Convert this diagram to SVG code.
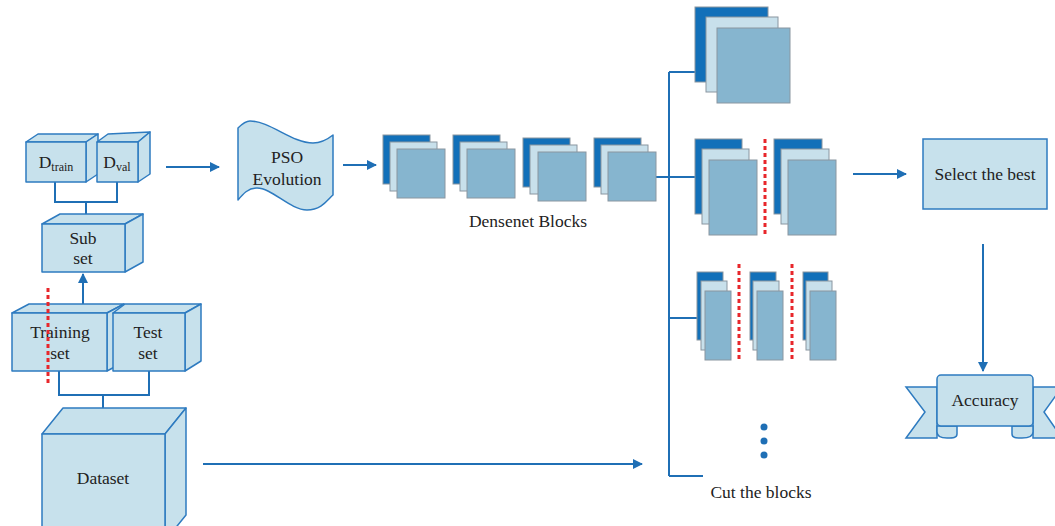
<svg xmlns="http://www.w3.org/2000/svg" width="1055" height="526" viewBox="0 0 1055 526">
<defs>
<marker id="ah" viewBox="0 0 10 10" refX="9" refY="5" markerWidth="5" markerHeight="5" orient="auto" markerUnits="strokeWidth"><path d="M0,0 L10,5 L0,10 z" fill="#1f6fb5"/></marker>
</defs>
<style>
.cube{fill:#c7e1ec;stroke:#2e7bc0;stroke-width:1.5;stroke-linejoin:round}
.lbl{font-family:"Liberation Serif","Times New Roman",serif;fill:#222;text-anchor:middle;font-size:17.5px}
.con{fill:none;stroke:#1f6fb5;stroke-width:2}
.arr{fill:none;stroke:#1f6fb5;stroke-width:2;marker-end:url(#ah)}
.bd{fill:#1270b9;stroke:#8a96a0;stroke-width:1}
.bl{fill:#c8e0eb;stroke:#8a96a0;stroke-width:1}
.bm{fill:#86b5cf;stroke:#8a96a0;stroke-width:1}
.red{stroke:#e8262b;stroke-width:3;stroke-dasharray:4 3;fill:none}
.box{fill:#c7e1ec;stroke:#2e7bc0;stroke-width:1.5}
</style>
<g id="connectors">
<path class="con" d="M55,182 V202 H117 V182 M86,202 V224"/>
<path class="arr" d="M83,304 V274"/>
<path class="con" d="M59,371 V395 H149 V371 M103,395 V434"/>
<path class="arr" d="M166,167 H219"/>
<path class="arr" d="M343,165 H376"/>
<path class="arr" d="M203,464 H642"/>
<path class="con" d="M656,177 H669 M669,72 V476 M669,72 H695 M669,177 H695 M669,318 H697 M669,476 H703"/>
<path class="arr" d="M853,174 H906"/>
<path class="arr" d="M983,244 V371"/>
</g>
<g id="dtrain">
<path class="cube" d="M26,142 L38,134 L98,134 L86,142 Z"/>
<path class="cube" d="M86,142 L98,134 L98,174 L86,182 Z"/>
<rect class="cube" x="26" y="142" width="60" height="40"/>
<text class="lbl" x="56" y="168" font-size="18">D<tspan font-size="12" dy="3">train</tspan></text>
</g>
<g id="dval">
<path class="cube" d="M97,142 L108,134 L150,132 L138,142 Z"/>
<path class="cube" d="M138,142 L150,132 L150,174 L138,182 Z"/>
<rect class="cube" x="97" y="142" width="41" height="40"/>
<text class="lbl" x="117" y="168" font-size="18">D<tspan font-size="12" dy="3">val</tspan></text>
</g>
<g id="subset">
<path class="cube" d="M42,224 L60,214 L143,214 L125,224 Z"/>
<path class="cube" d="M125,224 L143,214 L143,262 L125,272 Z"/>
<rect class="cube" x="42" y="224" width="83" height="48"/>
<text class="lbl" x="83" y="244">Sub</text>
<text class="lbl" x="83" y="264">set</text>
</g>
<g id="trainingset">
<path class="cube" d="M12,313 L29,304 L124,304 L107,313 Z"/>
<path class="cube" d="M107,313 L124,304 L124,362 L107,371 Z"/>
<rect class="cube" x="12" y="313" width="95" height="58"/>
<text class="lbl" x="60" y="338">Training</text>
<text class="lbl" x="60" y="359">set</text>
</g>
<g id="testset">
<path class="cube" d="M113,313 L125,304 L201,304 L185,313 Z"/>
<path class="cube" d="M185,313 L201,304 L201,361 L185,371 Z"/>
<rect class="cube" x="113" y="313" width="72" height="58"/>
<text class="lbl" x="148" y="338">Test</text>
<text class="lbl" x="148" y="359">set</text>
</g>
<g id="split-line">
<line class="red" x1="48" y1="288" x2="48" y2="386"/>
</g>
<g id="dataset">
<path class="cube" d="M42,434 L63,408 L186,408 L165,434 Z"/>
<path class="cube" d="M165,434 L186,408 L186,515 L165,541 Z"/>
<rect class="cube" x="42" y="434" width="123" height="100"/>
<text class="lbl" x="103" y="484">Dataset</text>
</g>
<g id="pso">
<path class="cube" d="M238,128 C242,124 246,121 250,121 C270,121 292,143 313,143 C322,143 328,139 333,135 L333,195 C328,199 322,210 307,210 C290,210 272,188 257,188 C248,188 243,194 238,200 Z"/>
<text class="lbl" x="287" y="163">PSO</text>
<text class="lbl" x="287" y="185">Evolution</text>
</g>
<g id="densenet">
<rect class="bd" x="383" y="135" width="47" height="49"/><rect class="bl" x="390" y="142" width="47" height="49"/><rect class="bm" x="397" y="149" width="48" height="49"/>
<rect class="bd" x="453" y="135" width="47" height="49"/><rect class="bl" x="460" y="142" width="47" height="49"/><rect class="bm" x="467" y="149" width="48" height="49"/>
<rect class="bd" x="523" y="138" width="47" height="49"/><rect class="bl" x="530" y="145" width="47" height="49"/><rect class="bm" x="538" y="152" width="48" height="49"/>
<rect class="bd" x="594" y="138" width="47" height="49"/><rect class="bl" x="601" y="145" width="47" height="49"/><rect class="bm" x="608" y="152" width="48" height="49"/>
<text class="lbl" x="528" y="227">Densenet Blocks</text>
</g>
<g id="cut1">
<rect class="bd" x="695" y="7" width="73" height="75"/><rect class="bl" x="706" y="17" width="72" height="75"/><rect class="bm" x="717" y="28" width="73" height="75"/>
</g>
<g id="cut2">
<rect class="bd" x="695" y="139" width="47" height="75"/><rect class="bl" x="702" y="149" width="47" height="75"/><rect class="bm" x="709" y="160" width="48" height="75"/>
<line class="red" x1="765" y1="139" x2="765" y2="236"/>
<rect class="bd" x="774" y="139" width="48" height="75"/><rect class="bl" x="781" y="149" width="48" height="75"/><rect class="bm" x="788" y="160" width="48" height="75"/>
</g>
<g id="cut3">
<rect class="bd" x="697" y="272" width="26" height="68"/><rect class="bl" x="701" y="281" width="26" height="69"/><rect class="bm" x="705" y="291" width="26" height="69"/>
<line class="red" x1="739" y1="264" x2="739" y2="362"/>
<rect class="bd" x="750" y="272" width="26" height="68"/><rect class="bl" x="753" y="281" width="26" height="69"/><rect class="bm" x="757" y="291" width="26" height="69"/>
<line class="red" x1="792" y1="264" x2="792" y2="362"/>
<rect class="bd" x="803" y="272" width="25" height="68"/><rect class="bl" x="806" y="281" width="26" height="69"/><rect class="bm" x="810" y="291" width="26" height="69"/>
</g>
<g id="more">
<circle cx="764" cy="427" r="3.5" fill="#1f6fb5"/><circle cx="764" cy="441" r="3.5" fill="#1f6fb5"/><circle cx="764" cy="455" r="3.5" fill="#1f6fb5"/>
<text class="lbl" x="761" y="498">Cut the blocks</text>
</g>
<g id="selectbest">
<rect class="box" x="923" y="139" width="124" height="70"/>
<text class="lbl" x="985" y="180">Select the best</text>
</g>
<g id="accuracy">
<path class="box" d="M906,387 L937,387 L937,438 L906,438 L925,412 Z"/>
<path class="box" d="M1062,387 L1033,387 L1033,438 L1062,438 L1044,412 Z"/>
<path class="box" d="M937,426 L957,426 L957,434 C957,438 953,438 947,438 C940,438 937,436 937,432 Z" fill="#86b5cf"/>
<path class="box" d="M1033,426 L1012,426 L1012,434 C1012,438 1016,438 1022,438 C1029,438 1033,436 1033,432 Z" fill="#86b5cf"/>
<rect class="box" x="937" y="375" width="96" height="51" rx="4"/>
<text class="lbl" x="985" y="406">Accuracy</text>
</g>
</svg>
